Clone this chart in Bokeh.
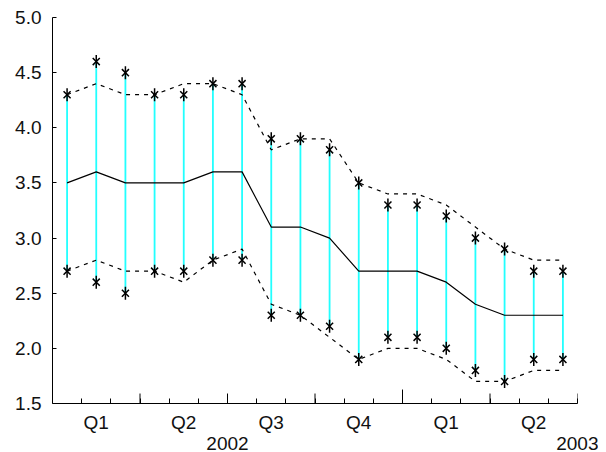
import numpy as np
from bokeh.plotting import figure
from bokeh.models import FixedTicker, Range1d, PrintfTickFormatter, LinearAxis
from bokeh.embed import file_html
from bokeh.resources import INLINE

# ---- data (monthly, Jan 2002 .. Jun 2003) ----
months = list(range(18))
center = [3.5, 3.6, 3.5, 3.5, 3.5, 3.6, 3.6, 3.1, 3.1, 3.0, 2.7, 2.7, 2.7, 2.6, 2.4, 2.3, 2.3, 2.3]
band_upper = [4.3, 4.4, 4.3, 4.3, 4.4, 4.4, 4.3, 3.8, 3.9, 3.9, 3.5, 3.4, 3.4, 3.3, 3.1, 2.9, 2.8, 2.8]
band_lower = [2.7, 2.8, 2.7, 2.7, 2.6, 2.8, 2.9, 2.4, 2.3, 2.1, 1.9, 2.0, 2.0, 1.9, 1.7, 1.7, 1.8, 1.8]
obs_high = [4.3, 4.6, 4.5, 4.3, 4.3, 4.4, 4.4, 3.9, 3.9, 3.8, 3.5, 3.3, 3.3, 3.2, 3.0, 2.9, 2.7, 2.7]
obs_low = [2.7, 2.6, 2.5, 2.7, 2.7, 2.8, 2.8, 2.3, 2.3, 2.2, 1.9, 2.1, 2.1, 2.0, 1.8, 1.7, 1.9, 1.9]
quarter_labels = ["Q1", "Q2", "Q3", "Q4", "Q1", "Q2"]
year_labels = ["2002", "2003"]
year_label_at = [6, 18]
y_ticks = [1.5, 2.0, 2.5, 3.0, 3.5, 4.0, 4.5, 5.0]

x = [m + 0.5 for m in months]
n_months = len(months)
quarter_bounds = list(range(3, n_months + 1, 3))
all_bounds = list(range(1, n_months + 1))
quarter_centers = [3 * i + 1.5 for i in range(len(quarter_labels))]

FONT = "Liberation Sans"
FS = "19px"
TXT = "#111111"
ymin, ymax = 1.5, 5.0
frame_h = 387

p = figure(width=598, height=452, x_range=Range1d(0, n_months), y_range=Range1d(ymin, ymax),
           output_backend="svg", toolbar_location=None,
           min_border_left=52, min_border_right=21, min_border_top=17, min_border_bottom=48)
p.outline_line_color = None
p.grid.visible = False

# y axis
p.yaxis.ticker = FixedTicker(ticks=y_ticks)
p.yaxis.formatter = PrintfTickFormatter(format="%.1f")
p.yaxis.major_tick_in = 4
p.yaxis.major_tick_out = 0
p.yaxis.minor_tick_line_color = None
p.yaxis.major_label_standoff = 11
p.yaxis.major_label_text_font = FONT
p.yaxis.major_label_text_font_size = FS
p.yaxis.major_label_text_color = TXT
p.yaxis.axis_line_color = "black"

# x axis: quarter labels at quarter centres, short ticks at month boundaries
xa = p.xaxis[0]
xa.ticker = FixedTicker(ticks=quarter_centers, minor_ticks=all_bounds)
xa.major_label_overrides = {c: t for c, t in zip(quarter_centers, quarter_labels)}
xa.major_tick_in = 0
xa.major_tick_out = 0
xa.minor_tick_in = 5
xa.minor_tick_out = 0
xa.major_label_standoff = 8
xa.major_label_text_font = FONT
xa.major_label_text_font_size = FS
xa.major_label_text_color = TXT
xa.axis_line_color = "black"

# second row: years
ya = LinearAxis(ticker=FixedTicker(ticks=year_label_at),
                major_label_overrides={v: t for v, t in zip(year_label_at, year_labels)},
                axis_line_color=None, major_tick_line_color=None, minor_tick_line_color=None,
                major_label_standoff=-5, major_label_text_font=FONT, major_label_text_font_size=FS,
                major_label_text_color=TXT)
p.add_layout(ya, "below")

# longer ticks at quarter and year boundaries
px = (ymax - ymin) / frame_h
q_len = [14 * px if b == 12 else 10 * px for b in quarter_bounds]
p.segment(x0=quarter_bounds, y0=[ymin] * len(quarter_bounds), x1=quarter_bounds,
          y1=[ymin + l for l in q_len], line_color="black", line_width=1)

# cyan ranges
p.segment(x0=x, y0=obs_low, x1=x, y1=obs_high, line_color="#22ffff", line_width=1.8)

# band and central line
p.line(x, band_upper, line_color="black", line_width=1.2, line_dash="4 5")
p.line(x, band_lower, line_color="black", line_width=1.2, line_dash="4 5")
p.line(x, center, line_color="black", line_width=1.2)

# star markers
for ys in (obs_high, obs_low):
    p.scatter(x, ys, marker="x", size=10, line_color="black", line_width=1.5)
    p.scatter(x, ys, marker="dash", angle=np.pi / 2, size=13, line_color="black", line_width=1.5)

open("out.html", "w").write(file_html(p, INLINE))
